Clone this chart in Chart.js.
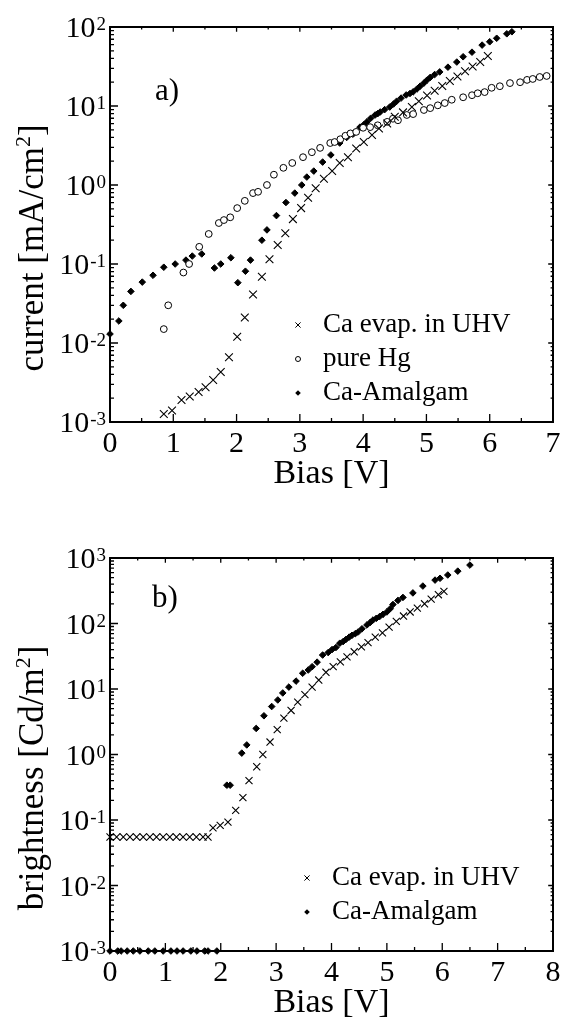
<!DOCTYPE html>
<html>
<head>
<meta charset="utf-8">
<script src="https://cdn.jsdelivr.net/npm/chart.js@4.4.1/dist/chart.umd.min.js"></script>
<style>
  html, body { margin: 0; padding: 0; background: #fff; }
  #wrap { position: relative; width: 561px; height: 1021px; }
  canvas { position: absolute; left: 0; }
  #chartCurrent { top: 0; }
  #chartBrightness { top: 490px; }
</style>
</head>
<body>
<div id="wrap">
  <canvas id="chartCurrent" width="561" height="490"></canvas>
  <canvas id="chartBrightness" width="561" height="531"></canvas>
</div>
<script>
// ---- panel a) current vs bias ----
const biasUhvA = [0.85, 0.98, 1.13, 1.26, 1.40, 1.51, 1.63, 1.75, 1.88, 2.01, 2.13, 2.26, 2.40, 2.52, 2.65, 2.77, 2.89,
  3.02, 3.13, 3.25, 3.38, 3.51, 3.63, 3.76, 3.89, 4.01, 4.14, 4.25, 4.38, 4.50, 4.63, 4.77, 4.88,
  5.01, 5.13, 5.25, 5.37, 5.49, 5.61, 5.73, 5.85, 5.97];
const currentUhvA = [0.00126, 0.0014, 0.0019, 0.0021, 0.0024, 0.00275, 0.0034, 0.0043, 0.0066, 0.012, 0.021, 0.041, 0.069, 0.115, 0.174, 0.245, 0.37,
  0.51, 0.69, 0.91, 1.2, 1.5, 1.9, 2.25, 2.9, 3.5, 4.3, 5.2, 6.0, 7.3, 8.3, 9.7, 11.5,
  13.6, 15.6, 17.9, 20.7, 23.6, 27.5, 31.6, 36, 43];

const biasHgA = [0.85, 0.92, 1.16, 1.25, 1.41, 1.56, 1.72, 1.80, 1.90, 2.01, 2.13, 2.26, 2.34, 2.48, 2.59, 2.74, 2.88,
  3.05, 3.19, 3.32, 3.48, 3.55, 3.64, 3.72, 3.80, 3.89, 4.00, 4.11, 4.23, 4.38, 4.47, 4.55, 4.69, 4.79, 4.96,
  5.06, 5.18, 5.29, 5.40, 5.58, 5.72, 5.81, 5.92, 6.03, 6.16, 6.32, 6.48, 6.59, 6.68, 6.79, 6.90];
const currentHgA = [0.015, 0.030, 0.078, 0.10, 0.165, 0.24, 0.33, 0.36, 0.39, 0.51, 0.63, 0.79, 0.82, 1.0, 1.35, 1.65, 1.9,
  2.25, 2.6, 2.95, 3.4, 3.5, 3.8, 4.2, 4.5, 4.7, 5.3, 5.4, 5.7, 6.3, 6.9, 6.6, 7.7, 7.9, 8.9,
  9.4, 10.2, 10.9, 12, 12.9, 13.7, 14.5, 15, 17, 17.8, 19.5, 20, 21.4, 22, 23.3, 24];

const biasAmA = [0, 0.14, 0.21, 0.33, 0.51, 0.68, 0.85, 1.03, 1.20, 1.30, 1.45, 1.65, 1.75, 1.91, 2.02, 2.14, 2.22, 2.40, 2.48,
  2.63, 2.78, 2.92, 3.03, 3.11, 3.22, 3.36, 3.49, 3.63, 3.74, 3.84, 3.95, 4.01, 4.06, 4.12, 4.19, 4.23, 4.27, 4.34,
  4.42, 4.48, 4.53, 4.60, 4.68, 4.74, 4.79, 4.85, 4.90, 4.96, 5.01, 5.06, 5.13, 5.21, 5.34, 5.48, 5.58, 5.72, 5.88,
  6.00, 6.11, 6.27, 6.35];
const currentAmA = [0.013, 0.019, 0.030, 0.045, 0.059, 0.072, 0.091, 0.10, 0.112, 0.126, 0.134, 0.089, 0.10, 0.12, 0.058, 0.081, 0.112, 0.20, 0.27,
  0.41, 0.60, 0.79, 1.0, 1.26, 1.5, 1.95, 2.4, 3.4, 4.0, 4.4, 5.4, 5.8, 6.3, 7.0, 7.7, 8.0, 8.4, 9.0,
  9.7, 10.6, 11.5, 12.6, 13.8, 14.4, 15.1, 16.4, 17.8, 19.5, 21.3, 23, 25, 27, 31, 36, 42, 48, 59,
  65, 72, 82, 87];

// ---- panel b) brightness vs bias ----
const biasUhvB = [0, 0.12, 0.24, 0.36, 0.48, 0.60, 0.72, 0.84, 0.96, 1.08, 1.20, 1.32, 1.44, 1.56, 1.68, 1.77,
  1.86, 1.99, 2.13, 2.27, 2.40, 2.51, 2.65, 2.76, 2.89, 3.02, 3.14, 3.27, 3.39, 3.52, 3.65, 3.77, 3.90,
  4.03, 4.16, 4.28, 4.41, 4.54, 4.66, 4.79, 4.92, 5.04, 5.17, 5.30, 5.42, 5.55, 5.68, 5.80, 5.93, 6.03];
const brightUhvB = [0.055, 0.055, 0.055, 0.055, 0.055, 0.055, 0.055, 0.055, 0.055, 0.055, 0.055, 0.055, 0.055, 0.055, 0.055, 0.055,
  0.076, 0.083, 0.093, 0.14, 0.22, 0.40, 0.65, 1.0, 1.55, 2.4, 3.6, 4.7, 6.3, 8.2, 10.7, 13.7, 18,
  22, 26, 31, 37, 44, 51, 62, 72, 88, 108, 130, 150, 172, 200, 235, 275, 310];

const biasAmB = [0, 0.14, 0.20, 0.31, 0.42, 0.54, 0.69, 0.81, 0.96, 1.10, 1.21, 1.32, 1.46, 1.57, 1.71, 1.77, 1.93,
  2.11, 2.17, 2.38, 2.47, 2.64, 2.78, 2.92, 3.03, 3.12, 3.23, 3.36, 3.48, 3.58, 3.65, 3.74, 3.84, 3.94,
  4.01, 4.08, 4.15, 4.21, 4.26, 4.32, 4.37, 4.43, 4.48, 4.55, 4.64, 4.70, 4.75, 4.81, 4.87, 4.93, 5.00,
  5.06, 5.11, 5.20, 5.29, 5.47, 5.65, 5.87, 5.96, 6.10, 6.28, 6.50];
const brightAmB = [0.001, 0.001, 0.001, 0.001, 0.001, 0.001, 0.001, 0.001, 0.001, 0.001, 0.001, 0.001, 0.001, 0.001, 0.001, 0.001, 0.001,
  0.34, 0.34, 1.05, 1.4, 2.5, 3.9, 5.4, 6.8, 8.7, 10.7, 13.2, 17.4, 19.5, 21.9, 25.7, 33, 36,
  40, 43, 50, 53, 57, 62, 66, 70, 74, 83, 95, 104, 113, 120, 128, 138, 150,
  168, 195, 225, 250, 293, 373, 460, 490, 550, 630, 780];

// ---- axis ticks ----
const xTicksA = [0, 1, 2, 3, 4, 5, 6, 7];
const yExpA = [-3, -2, -1, 0, 1, 2];
const xTicksB = [0, 1, 2, 3, 4, 5, 6, 7, 8];
const yExpB = [-3, -2, -1, 0, 1, 2, 3];

const SERIF = '"Liberation Serif", "Times New Roman", serif';

const toPoints = (xs, ys) => xs.map((x, i) => ({ x: x, y: ys[i] }));

const uhvStyle = { pointStyle: 'crossRot', pointRadius: 5.5, borderColor: '#000', backgroundColor: '#000', pointBorderWidth: 1.1 };
const hgStyle = { pointStyle: 'circle', pointRadius: 3.4, borderColor: '#000', backgroundColor: '#fff', pointBorderWidth: 1 };
const amStyle = { pointStyle: 'rectRot', pointRadius: 3.3, borderColor: '#000', backgroundColor: '#000', pointBorderWidth: 1 };

// draws text with optional superscript parts: [["current [mA/cm"], ["2", true], ["]"]]
function drawParts(ctx, parts, x, y, size, align) {
  const widths = parts.map(([t, sup]) => {
    ctx.font = (sup ? Math.round(size * 0.62) : size) + 'px ' + SERIF;
    return ctx.measureText(t).width;
  });
  const total = widths.reduce((s, w) => s + w, 0);
  let cx = align === 'center' ? x - total / 2 : (align === 'right' ? x - total : x);
  ctx.textAlign = 'left';
  ctx.textBaseline = 'alphabetic';
  parts.forEach(([t, sup], i) => {
    ctx.font = (sup ? Math.round(size * 0.62) : size) + 'px ' + SERIF;
    ctx.fillText(t, cx, sup ? y - size * 0.36 : y);
    cx += widths[i];
  });
}

function legendMark(ctx, style, x, y) {
  ctx.beginPath();
  if (style === 'x') {
    ctx.lineWidth = 1;
    ctx.moveTo(x - 2.6, y - 2.6); ctx.lineTo(x + 2.6, y + 2.6);
    ctx.moveTo(x + 2.6, y - 2.6); ctx.lineTo(x - 2.6, y + 2.6);
    ctx.stroke();
  } else if (style === 'o') {
    ctx.lineWidth = 1;
    ctx.arc(x, y, 2.5, 0, Math.PI * 2);
    ctx.stroke();
  } else {
    ctx.moveTo(x - 2.8, y); ctx.lineTo(x, y - 2.8); ctx.lineTo(x + 2.8, y); ctx.lineTo(x, y + 2.8);
    ctx.closePath();
    ctx.fill();
  }
}

const framePlugin = {
  id: 'frame',
  afterDraw(chart, args, o) {
    const { ctx, chartArea: a } = chart;
    const xs = chart.scales.x, ys = chart.scales.y;
    ctx.save();
    ctx.strokeStyle = '#000';
    ctx.fillStyle = '#000';

    // ticks, inward, on all four sides
    ctx.lineWidth = 1.3;
    ctx.beginPath();
    const xMax = o.xTicks[o.xTicks.length - 1];
    for (let v = 0; v <= xMax; v += 0.5) {
      const px = xs.getPixelForValue(v);
      const len = Number.isInteger(v) ? 8 : 4;
      ctx.moveTo(px, a.bottom); ctx.lineTo(px, a.bottom - len);
      ctx.moveTo(px, a.top); ctx.lineTo(px, a.top + len * 0.6);
    }
    o.yExp.forEach((e, i) => {
      for (let m = 1; m <= 9; m++) {
        if (i === o.yExp.length - 1 && m > 1) break;
        const py = ys.getPixelForValue(m * Math.pow(10, e));
        const len = m === 1 ? 8 : 4;
        ctx.moveTo(a.left, py); ctx.lineTo(a.left + len, py);
        ctx.moveTo(a.right, py); ctx.lineTo(a.right - len * 0.6, py);
      }
    });
    ctx.stroke();

    // frame
    ctx.lineWidth = 2;
    ctx.strokeRect(a.left, a.top, a.right - a.left, a.bottom - a.top);

    // x tick labels
    ctx.font = '30px ' + SERIF;
    ctx.textAlign = 'center';
    ctx.textBaseline = 'middle';
    o.xTicks.forEach((v) => {
      ctx.fillText(String(v), xs.getPixelForValue(v), a.bottom + 22);
    });

    // y tick labels 10^n
    o.yExp.forEach((e) => {
      const py = ys.getPixelForValue(Math.pow(10, e));
      ctx.font = '19px ' + SERIF;
      const sup = String(e);
      const supW = ctx.measureText(sup).width;
      const right = a.left - 4;
      ctx.textAlign = 'left';
      ctx.textBaseline = 'alphabetic';
      ctx.fillText(sup, right - supW, py + 3);
      ctx.font = '30px ' + SERIF;
      ctx.textAlign = 'right';
      ctx.fillText('10', right - supW - 1, py + 10);
    });

    // x axis title
    drawParts(ctx, [[o.xTitle]], (a.left + a.right) / 2, a.bottom + 61, 34, 'center');

    // y axis title (rotated)
    ctx.save();
    ctx.translate(43, o.yTitleY);
    ctx.rotate(-Math.PI / 2);
    drawParts(ctx, o.yTitle, 0, 0, 35, 'center');
    ctx.restore();

    // panel label
    drawParts(ctx, [[o.panel]], o.panelX, o.panelY, 31, 'left');

    // legend
    ctx.font = '27px ' + SERIF;
    ctx.textAlign = 'left';
    ctx.textBaseline = 'middle';
    o.legend.forEach((item, i) => {
      const y = o.legendY + i * o.legendGap;
      legendMark(ctx, item.mark, o.legendX, y);
      ctx.fillText(item.label, o.legendX + 25, y);
    });
    ctx.restore();
  }
};

const baseOptions = (xMax, yMin, yMax, padding, frameOpts) => ({
  responsive: false,
  animation: false,
  events: [],
  layout: { padding: padding },
  scales: {
    x: { type: 'linear', min: 0, max: xMax, display: false },
    y: { type: 'logarithmic', min: yMin, max: yMax, display: false }
  },
  plugins: {
    legend: { display: false },
    tooltip: { enabled: false },
    frame: frameOpts
  }
});

new Chart(document.querySelector('#chartCurrent'), {
  type: 'scatter',
  data: {
    datasets: [
      { label: 'Ca evap. in UHV', data: toPoints(biasUhvA, currentUhvA), clip: false, ...uhvStyle },
      { label: 'pure Hg', data: toPoints(biasHgA, currentHgA), clip: false, ...hgStyle },
      { label: 'Ca-Amalgam', data: toPoints(biasAmA, currentAmA), clip: false, ...amStyle }
    ]
  },
  options: baseOptions(7, 0.001, 100, { left: 110, top: 27, right: 8, bottom: 68 }, {
    xTicks: xTicksA,
    yExp: yExpA,
    xTitle: 'Bias [V]',
    yTitle: [['current [mA/cm'], ['2', true], [']']],
    yTitleY: 248,
    panel: 'a)',
    panelX: 155, panelY: 100,
    legend: [
      { mark: 'x', label: 'Ca evap. in UHV' },
      { mark: 'o', label: 'pure Hg' },
      { mark: 'd', label: 'Ca-Amalgam' }
    ],
    legendX: 298, legendY: 325, legendGap: 34
  }),
  plugins: [framePlugin]
});

new Chart(document.querySelector('#chartBrightness'), {
  type: 'scatter',
  data: {
    datasets: [
      { label: 'Ca evap. in UHV', data: toPoints(biasUhvB, brightUhvB), clip: false, ...uhvStyle, pointRadius: 5 },
      { label: 'Ca-Amalgam', data: toPoints(biasAmB, brightAmB), clip: false, ...amStyle }
    ]
  },
  options: baseOptions(8, 0.001, 1000, { left: 110, top: 68, right: 8, bottom: 70 }, {
    xTicks: xTicksB,
    yExp: yExpB,
    xTitle: 'Bias [V]',
    yTitle: [['brightness [Cd/m'], ['2', true], [']']],
    yTitleY: 288,
    panel: 'b)',
    panelX: 152, panelY: 117,
    legend: [
      { mark: 'x', label: 'Ca evap. in UHV' },
      { mark: 'd', label: 'Ca-Amalgam' }
    ],
    legendX: 307, legendY: 388, legendGap: 34
  }),
  plugins: [framePlugin]
});
</script>
</body>
</html>
